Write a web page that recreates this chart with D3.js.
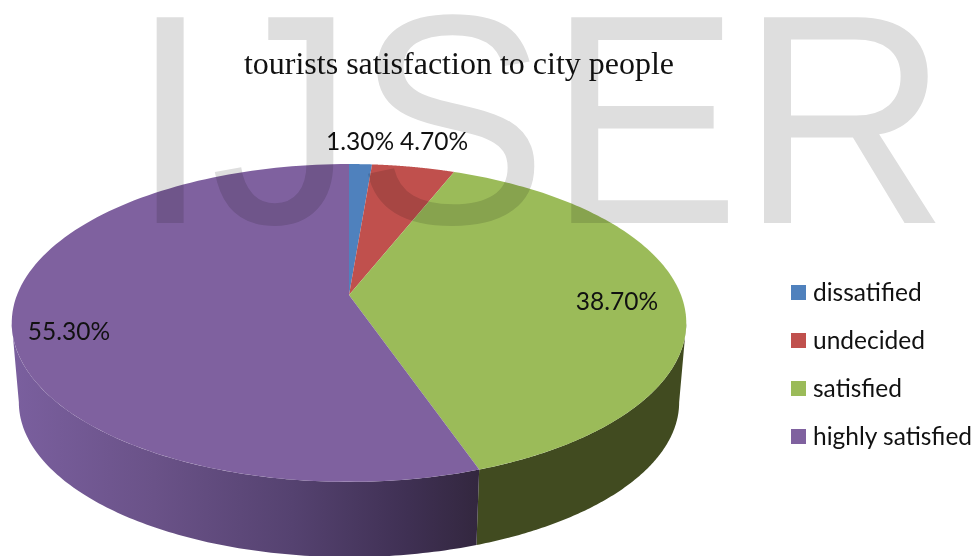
<!DOCTYPE html>
<html>
<head>
<meta charset="utf-8">
<script src="https://cdn.jsdelivr.net/npm/d3@7"></script>
<style>
html, body { margin: 0; padding: 0; background: #fff; }
svg { display: block; }
</style>
</head>
<body>
<svg id="chart" width="975" height="556"></svg>
<script>
const categories = ["dissatified", "undecided", "satisfied", "highly satisfied"];
const shares = [1.3, 4.7, 38.7, 55.3];
const shareLabels = ["1.30%", "4.70%", "38.70%", "55.30%"];
const topColors = ["#4f81bd", "#c0504d", "#9bbb59", "#7f619f"];
const wallColors = ["#2c4a70", "#6f2d2b", "#414b20", "#4a3a60"];

const width = 975, height = 556;
const svg = d3.select("#chart");
const defs = svg.append("defs");

const fillOf = d3.scaleOrdinal().domain(categories).range(topColors);
const wallOf = d3.scaleOrdinal().domain(categories).range(wallColors);

// Perspective projection of a unit disc onto the tilted pie faces.
const tilt = 0.176;
function project(angle, face) {
  const u = Math.sin(angle), w = -Math.cos(angle);
  const d = 1 - tilt * w;
  return [face.x + face.a * u / d, face.y + face.b * w / d];
}
const topFace = { x: 349, y: 295, a: 332, b: 154 };
const baseFace = { x: 349, y: 375, a: 325, b: 150 };

const pie = d3.pie().sort(null).value(d => d.share).startAngle(0).endAngle(2 * Math.PI);
const slices = pie(categories.map((name, i) => ({ name, share: shares[i], label: shareLabels[i] })));
const line = d3.line();

function rim(start, end, face) {
  return d3.range(0, 121).map(i => project(start + (end - start) * i / 120, face));
}

// Side wall: starts and ends at the widest points of the projected rim,
// so the straight closing edges form the outline of the cylinder.
const wallFrom = Math.acos(-tilt), wallTo = 2 * Math.PI - wallFrom;

const wallShade = defs.append("linearGradient")
  .attr("id", "wallShade").attr("gradientUnits", "userSpaceOnUse")
  .attr("x1", 15).attr("x2", 478).attr("y1", 0).attr("y2", 0);
wallShade.selectAll("stop")
  .data([[0, "#7a5f9e"], [0.3, "#6a5288"], [0.6, "#554270"], [0.85, "#3f3053"], [1, "#33273f"]])
  .join("stop")
  .attr("offset", d => d[0])
  .attr("stop-color", d => d[1]);

const walls = svg.append("g");
slices.forEach(s => {
  const a0 = Math.max(s.startAngle, wallFrom), a1 = Math.min(s.endAngle, wallTo);
  if (a1 <= a0) return;
  const outline = rim(a0, a1, topFace).concat(rim(a0, a1, baseFace).reverse());
  walls.append("path")
    .attr("d", line(outline) + "Z")
    .attr("fill", s.data.name === "highly satisfied" ? "url(#wallShade)" : wallOf(s.data.name));
});

// Top face of the pie.
const [apexX, apexY] = [topFace.x, topFace.y];
svg.append("g").selectAll("path")
  .data(slices)
  .join("path")
  .attr("d", s => line([[apexX, apexY], ...rim(s.startAngle, s.endAngle, topFace)]) + "Z")
  .attr("fill", s => fillOf(s.data.name));

// Value labels.
const labelSpots = [[360, 150], [434, 150], [617, 310], [69, 340]];
svg.append("g").selectAll("text")
  .data(slices)
  .join("text")
  .attr("x", (s, i) => labelSpots[i][0])
  .attr("y", (s, i) => labelSpots[i][1])
  .attr("text-anchor", "middle")
  .attr("font-family", "Lato, 'Open Sans', sans-serif")
  .attr("font-size", 24.5)
  .attr("fill", "#111")
  .text(s => s.data.label);

// Title.
svg.append("text")
  .attr("x", 459).attr("y", 74)
  .attr("text-anchor", "middle")
  .attr("font-family", "'Liberation Serif', serif")
  .attr("font-size", 32)
  .attr("fill", "#111")
  .text("tourists satisfaction to city people");

// Legend.
const legendY = d3.scalePoint().domain(categories).range([292.5, 436.5]);
const legend = svg.append("g").selectAll("g")
  .data(categories)
  .join("g")
  .attr("transform", d => `translate(791,${legendY(d)})`);
legend.append("rect")
  .attr("x", 0).attr("y", -7.5).attr("width", 15).attr("height", 15)
  .attr("fill", d => fillOf(d));
legend.append("text")
  .attr("x", 22).attr("y", 8)
  .attr("font-family", "Lato, 'Open Sans', sans-serif")
  .attr("font-size", 24.5)
  .attr("fill", "#111")
  .text(d => d);

// Publisher's mark laid across the page, stretched slightly taller than the face.
svg.append("text")
  .attr("transform", "translate(130,223) scale(1,1.035)")
  .attr("font-family", "'Liberation Sans', Arial, sans-serif")
  .attr("font-size", 289)
  .attr("fill", "#dedede")
  .style("mix-blend-mode", "multiply")
  .text("IJSER");
</script>
</body>
</html>
